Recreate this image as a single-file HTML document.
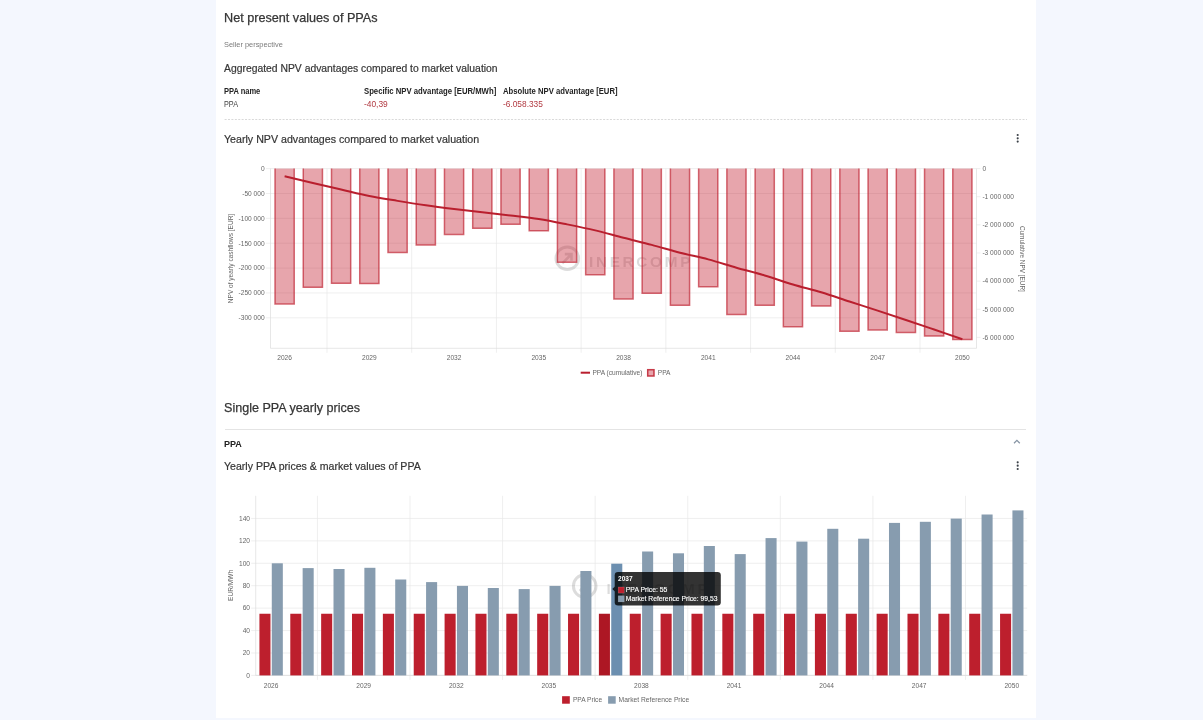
<!DOCTYPE html>
<html lang="en"><head><meta charset="utf-8"><title>Net present values of PPAs</title>
<style>
html,body{margin:0;padding:0}
body{width:1203px;height:720px;overflow:hidden;background:#f4f7fe;position:relative;font-family:"Liberation Sans", Arial, sans-serif}
.card{position:absolute;left:216px;top:0;width:820px;height:717.5px;background:#fff}
.t{position:absolute;white-space:pre;line-height:1;display:block}
</style></head><body>
<div class="card"></div>
<svg style="position:absolute;left:0;top:0" width="1203" height="720" viewBox="0 0 1203 720" font-family='"Liberation Sans", Arial, sans-serif'>
<line x1="266.0" x2="976.5" y1="168.60" y2="168.60" stroke="#e8e8e8" stroke-width="0.7"/>
<line x1="266.0" x2="976.5" y1="193.47" y2="193.47" stroke="#e8e8e8" stroke-width="0.7"/>
<line x1="266.0" x2="976.5" y1="218.34" y2="218.34" stroke="#e8e8e8" stroke-width="0.7"/>
<line x1="266.0" x2="976.5" y1="243.21" y2="243.21" stroke="#e8e8e8" stroke-width="0.7"/>
<line x1="266.0" x2="976.5" y1="268.08" y2="268.08" stroke="#e8e8e8" stroke-width="0.7"/>
<line x1="266.0" x2="976.5" y1="292.95" y2="292.95" stroke="#e8e8e8" stroke-width="0.7"/>
<line x1="266.0" x2="976.5" y1="317.82" y2="317.82" stroke="#e8e8e8" stroke-width="0.7"/>
<line x1="976.5" x2="980.5" y1="196.73" y2="196.73" stroke="#e8e8e8" stroke-width="0.7"/>
<line x1="976.5" x2="980.5" y1="224.86" y2="224.86" stroke="#e8e8e8" stroke-width="0.7"/>
<line x1="976.5" x2="980.5" y1="252.99" y2="252.99" stroke="#e8e8e8" stroke-width="0.7"/>
<line x1="976.5" x2="980.5" y1="281.12" y2="281.12" stroke="#e8e8e8" stroke-width="0.7"/>
<line x1="976.5" x2="980.5" y1="309.25" y2="309.25" stroke="#e8e8e8" stroke-width="0.7"/>
<line x1="976.5" x2="980.5" y1="337.38" y2="337.38" stroke="#e8e8e8" stroke-width="0.7"/>
<line x1="976.5" x2="980.5" y1="168.60" y2="168.60" stroke="#e8e8e8" stroke-width="0.7"/>
<line x1="326.98" x2="326.98" y1="168.6" y2="352.8" stroke="#e8e8e8" stroke-width="0.7"/>
<line x1="411.70" x2="411.70" y1="168.6" y2="352.8" stroke="#e8e8e8" stroke-width="0.7"/>
<line x1="496.42" x2="496.42" y1="168.6" y2="352.8" stroke="#e8e8e8" stroke-width="0.7"/>
<line x1="581.14" x2="581.14" y1="168.6" y2="352.8" stroke="#e8e8e8" stroke-width="0.7"/>
<line x1="665.86" x2="665.86" y1="168.6" y2="352.8" stroke="#e8e8e8" stroke-width="0.7"/>
<line x1="750.58" x2="750.58" y1="168.6" y2="352.8" stroke="#e8e8e8" stroke-width="0.7"/>
<line x1="835.30" x2="835.30" y1="168.6" y2="352.8" stroke="#e8e8e8" stroke-width="0.7"/>
<line x1="920.02" x2="920.02" y1="168.6" y2="352.8" stroke="#e8e8e8" stroke-width="0.7"/>
<line x1="270.5" x2="270.5" y1="168.6" y2="348.3" stroke="#dcdcdc" stroke-width="0.7"/>
<line x1="976.5" x2="976.5" y1="168.6" y2="348.3" stroke="#dcdcdc" stroke-width="0.7"/>
<line x1="270.5" x2="976.5" y1="348.3" y2="348.3" stroke="#dcdcdc" stroke-width="0.7"/>
<g opacity="0.18"><circle cx="567.3" cy="258.3" r="11.3" fill="none" stroke="#444" stroke-width="3"/><path d="M562.3 263.3 L570.8 254.8 M564.8 254.1 L571.5 254.1 L571.5 260.8" stroke="#444" stroke-width="2.6" fill="none"/><text x="589.0" y="266.5" font-size="15.3" font-weight="700" letter-spacing="2.7" fill="#444">INERCOMP</text></g>
<rect x="275.02" y="168.60" width="19.2" height="135.30" fill="rgba(196,30,48,0.40)"/>
<path d="M275.02 168.60 V303.90 H294.22 V168.60" fill="none" stroke="rgba(190,30,46,0.66)" stroke-width="1.5"/>
<rect x="303.26" y="168.60" width="19.2" height="118.70" fill="rgba(196,30,48,0.40)"/>
<path d="M303.26 168.60 V287.30 H322.46 V168.60" fill="none" stroke="rgba(190,30,46,0.66)" stroke-width="1.5"/>
<rect x="331.50" y="168.60" width="19.2" height="114.70" fill="rgba(196,30,48,0.40)"/>
<path d="M331.50 168.60 V283.30 H350.70 V168.60" fill="none" stroke="rgba(190,30,46,0.66)" stroke-width="1.5"/>
<rect x="359.74" y="168.60" width="19.2" height="115.00" fill="rgba(196,30,48,0.40)"/>
<path d="M359.74 168.60 V283.60 H378.94 V168.60" fill="none" stroke="rgba(190,30,46,0.66)" stroke-width="1.5"/>
<rect x="387.98" y="168.60" width="19.2" height="83.90" fill="rgba(196,30,48,0.40)"/>
<path d="M387.98 168.60 V252.50 H407.18 V168.60" fill="none" stroke="rgba(190,30,46,0.66)" stroke-width="1.5"/>
<rect x="416.22" y="168.60" width="19.2" height="76.40" fill="rgba(196,30,48,0.40)"/>
<path d="M416.22 168.60 V245.00 H435.42 V168.60" fill="none" stroke="rgba(190,30,46,0.66)" stroke-width="1.5"/>
<rect x="444.46" y="168.60" width="19.2" height="65.80" fill="rgba(196,30,48,0.40)"/>
<path d="M444.46 168.60 V234.40 H463.66 V168.60" fill="none" stroke="rgba(190,30,46,0.66)" stroke-width="1.5"/>
<rect x="472.70" y="168.60" width="19.2" height="59.70" fill="rgba(196,30,48,0.40)"/>
<path d="M472.70 168.60 V228.30 H491.90 V168.60" fill="none" stroke="rgba(190,30,46,0.66)" stroke-width="1.5"/>
<rect x="500.94" y="168.60" width="19.2" height="55.60" fill="rgba(196,30,48,0.40)"/>
<path d="M500.94 168.60 V224.20 H520.14 V168.60" fill="none" stroke="rgba(190,30,46,0.66)" stroke-width="1.5"/>
<rect x="529.18" y="168.60" width="19.2" height="62.20" fill="rgba(196,30,48,0.40)"/>
<path d="M529.18 168.60 V230.80 H548.38 V168.60" fill="none" stroke="rgba(190,30,46,0.66)" stroke-width="1.5"/>
<rect x="557.42" y="168.60" width="19.2" height="93.60" fill="rgba(196,30,48,0.40)"/>
<path d="M557.42 168.60 V262.20 H576.62 V168.60" fill="none" stroke="rgba(190,30,46,0.66)" stroke-width="1.5"/>
<rect x="585.66" y="168.60" width="19.2" height="106.10" fill="rgba(196,30,48,0.40)"/>
<path d="M585.66 168.60 V274.70 H604.86 V168.60" fill="none" stroke="rgba(190,30,46,0.66)" stroke-width="1.5"/>
<rect x="613.90" y="168.60" width="19.2" height="130.30" fill="rgba(196,30,48,0.40)"/>
<path d="M613.90 168.60 V298.90 H633.10 V168.60" fill="none" stroke="rgba(190,30,46,0.66)" stroke-width="1.5"/>
<rect x="642.14" y="168.60" width="19.2" height="124.70" fill="rgba(196,30,48,0.40)"/>
<path d="M642.14 168.60 V293.30 H661.34 V168.60" fill="none" stroke="rgba(190,30,46,0.66)" stroke-width="1.5"/>
<rect x="670.38" y="168.60" width="19.2" height="136.70" fill="rgba(196,30,48,0.40)"/>
<path d="M670.38 168.60 V305.30 H689.58 V168.60" fill="none" stroke="rgba(190,30,46,0.66)" stroke-width="1.5"/>
<rect x="698.62" y="168.60" width="19.2" height="118.10" fill="rgba(196,30,48,0.40)"/>
<path d="M698.62 168.60 V286.70 H717.82 V168.60" fill="none" stroke="rgba(190,30,46,0.66)" stroke-width="1.5"/>
<rect x="726.86" y="168.60" width="19.2" height="145.90" fill="rgba(196,30,48,0.40)"/>
<path d="M726.86 168.60 V314.50 H746.06 V168.60" fill="none" stroke="rgba(190,30,46,0.66)" stroke-width="1.5"/>
<rect x="755.10" y="168.60" width="19.2" height="136.70" fill="rgba(196,30,48,0.40)"/>
<path d="M755.10 168.60 V305.30 H774.30 V168.60" fill="none" stroke="rgba(190,30,46,0.66)" stroke-width="1.5"/>
<rect x="783.34" y="168.60" width="19.2" height="158.10" fill="rgba(196,30,48,0.40)"/>
<path d="M783.34 168.60 V326.70 H802.54 V168.60" fill="none" stroke="rgba(190,30,46,0.66)" stroke-width="1.5"/>
<rect x="811.58" y="168.60" width="19.2" height="137.40" fill="rgba(196,30,48,0.40)"/>
<path d="M811.58 168.60 V306.00 H830.78 V168.60" fill="none" stroke="rgba(190,30,46,0.66)" stroke-width="1.5"/>
<rect x="839.82" y="168.60" width="19.2" height="162.60" fill="rgba(196,30,48,0.40)"/>
<path d="M839.82 168.60 V331.20 H859.02 V168.60" fill="none" stroke="rgba(190,30,46,0.66)" stroke-width="1.5"/>
<rect x="868.06" y="168.60" width="19.2" height="161.30" fill="rgba(196,30,48,0.40)"/>
<path d="M868.06 168.60 V329.90 H887.26 V168.60" fill="none" stroke="rgba(190,30,46,0.66)" stroke-width="1.5"/>
<rect x="896.30" y="168.60" width="19.2" height="163.90" fill="rgba(196,30,48,0.40)"/>
<path d="M896.30 168.60 V332.50 H915.50 V168.60" fill="none" stroke="rgba(190,30,46,0.66)" stroke-width="1.5"/>
<rect x="924.54" y="168.60" width="19.2" height="167.40" fill="rgba(196,30,48,0.40)"/>
<path d="M924.54 168.60 V336.00 H943.74 V168.60" fill="none" stroke="rgba(190,30,46,0.66)" stroke-width="1.5"/>
<rect x="952.78" y="168.60" width="19.2" height="170.90" fill="rgba(196,30,48,0.40)"/>
<path d="M952.78 168.60 V339.50 H971.98 V168.60" fill="none" stroke="rgba(190,30,46,0.66)" stroke-width="1.5"/>
<path d="M284.62 176.29 C289.33 177.42 303.45 180.83 312.86 183.04 C322.27 185.25 331.69 187.38 341.10 189.56 C350.51 191.74 359.93 194.21 369.34 196.10 C378.75 197.98 388.17 199.35 397.58 200.87 C406.99 202.39 416.41 203.86 425.82 205.21 C435.23 206.56 444.65 207.76 454.06 208.95 C463.47 210.14 472.89 211.25 482.30 212.35 C491.71 213.44 501.13 214.39 510.54 215.51 C519.95 216.62 529.37 217.57 538.78 219.04 C548.19 220.52 557.61 222.47 567.02 224.36 C576.43 226.26 585.85 228.16 595.26 230.40 C604.67 232.64 614.09 235.39 623.50 237.80 C632.91 240.22 642.33 242.42 651.74 244.89 C661.15 247.37 670.57 250.25 679.98 252.66 C689.39 255.08 698.81 256.88 708.22 259.38 C717.63 261.88 727.05 264.99 736.46 267.67 C745.87 270.35 755.29 272.65 764.70 275.44 C774.11 278.24 783.53 281.63 792.94 284.43 C802.35 287.23 811.77 289.40 821.18 292.24 C830.59 295.09 840.01 298.42 849.42 301.49 C858.83 304.56 868.25 307.58 877.66 310.66 C887.07 313.74 896.49 316.84 905.90 319.97 C915.31 323.11 924.73 326.29 934.14 329.49 C943.55 332.70 957.67 337.59 962.38 339.21" fill="none" stroke="#b91f2e" stroke-width="2" stroke-linejoin="round"/>
<text x="264.6" y="170.95" font-size="6.6" fill="#666" text-anchor="end">0</text>
<text x="264.6" y="195.82" font-size="6.6" fill="#666" text-anchor="end">-50 000</text>
<text x="264.6" y="220.69" font-size="6.6" fill="#666" text-anchor="end">-100 000</text>
<text x="264.6" y="245.56" font-size="6.6" fill="#666" text-anchor="end">-150 000</text>
<text x="264.6" y="270.43" font-size="6.6" fill="#666" text-anchor="end">-200 000</text>
<text x="264.6" y="295.30" font-size="6.6" fill="#666" text-anchor="end">-250 000</text>
<text x="264.6" y="320.17" font-size="6.6" fill="#666" text-anchor="end">-300 000</text>
<text x="982.4" y="170.95" font-size="6.6" fill="#666">0</text>
<text x="982.4" y="199.08" font-size="6.6" fill="#666">-1 000 000</text>
<text x="982.4" y="227.21" font-size="6.6" fill="#666">-2 000 000</text>
<text x="982.4" y="255.34" font-size="6.6" fill="#666">-3 000 000</text>
<text x="982.4" y="283.47" font-size="6.6" fill="#666">-4 000 000</text>
<text x="982.4" y="311.60" font-size="6.6" fill="#666">-5 000 000</text>
<text x="982.4" y="339.73" font-size="6.6" fill="#666">-6 000 000</text>
<text x="284.62" y="360.4" font-size="6.6" fill="#666" text-anchor="middle">2026</text>
<text x="369.34" y="360.4" font-size="6.6" fill="#666" text-anchor="middle">2029</text>
<text x="454.06" y="360.4" font-size="6.6" fill="#666" text-anchor="middle">2032</text>
<text x="538.78" y="360.4" font-size="6.6" fill="#666" text-anchor="middle">2035</text>
<text x="623.50" y="360.4" font-size="6.6" fill="#666" text-anchor="middle">2038</text>
<text x="708.22" y="360.4" font-size="6.6" fill="#666" text-anchor="middle">2041</text>
<text x="792.94" y="360.4" font-size="6.6" fill="#666" text-anchor="middle">2044</text>
<text x="877.66" y="360.4" font-size="6.6" fill="#666" text-anchor="middle">2047</text>
<text x="962.38" y="360.4" font-size="6.6" fill="#666" text-anchor="middle">2050</text>
<text transform="translate(232.8 258.5) rotate(-90)" font-size="6.6" fill="#666" text-anchor="middle" textLength="89.3" lengthAdjust="spacingAndGlyphs">NPV of yearly cashflows [EUR]</text>
<text transform="translate(1020.0 258.9) rotate(90)" font-size="6.6" fill="#666" text-anchor="middle" textLength="66" lengthAdjust="spacingAndGlyphs">Cumulative NPV [EUR]</text>
<rect x="580.7" y="371.7" width="9.3" height="2" fill="#b91f2e"/>
<text x="592.4" y="374.9" font-size="6.6" fill="#666">PPA (cumulative)</text>
<rect x="647.7" y="369.7" width="6.3" height="6.3" fill="rgba(196,30,48,0.40)" stroke="rgba(190,30,46,0.85)" stroke-width="1.5"/>
<text x="657.8" y="374.9" font-size="6.6" fill="#666">PPA</text>
<line x1="251.2" x2="1027.2" y1="675.40" y2="675.40" stroke="#e8e8e8" stroke-width="0.7"/>
<line x1="251.2" x2="1027.2" y1="652.98" y2="652.98" stroke="#e8e8e8" stroke-width="0.7"/>
<line x1="251.2" x2="1027.2" y1="630.56" y2="630.56" stroke="#e8e8e8" stroke-width="0.7"/>
<line x1="251.2" x2="1027.2" y1="608.14" y2="608.14" stroke="#e8e8e8" stroke-width="0.7"/>
<line x1="251.2" x2="1027.2" y1="585.72" y2="585.72" stroke="#e8e8e8" stroke-width="0.7"/>
<line x1="251.2" x2="1027.2" y1="563.30" y2="563.30" stroke="#e8e8e8" stroke-width="0.7"/>
<line x1="251.2" x2="1027.2" y1="540.88" y2="540.88" stroke="#e8e8e8" stroke-width="0.7"/>
<line x1="251.2" x2="1027.2" y1="518.46" y2="518.46" stroke="#e8e8e8" stroke-width="0.7"/>
<line x1="317.42" x2="317.42" y1="495.8" y2="679.9" stroke="#e8e8e8" stroke-width="0.7"/>
<line x1="410.00" x2="410.00" y1="495.8" y2="679.9" stroke="#e8e8e8" stroke-width="0.7"/>
<line x1="502.58" x2="502.58" y1="495.8" y2="679.9" stroke="#e8e8e8" stroke-width="0.7"/>
<line x1="595.16" x2="595.16" y1="495.8" y2="679.9" stroke="#e8e8e8" stroke-width="0.7"/>
<line x1="687.74" x2="687.74" y1="495.8" y2="679.9" stroke="#e8e8e8" stroke-width="0.7"/>
<line x1="780.32" x2="780.32" y1="495.8" y2="679.9" stroke="#e8e8e8" stroke-width="0.7"/>
<line x1="872.90" x2="872.90" y1="495.8" y2="679.9" stroke="#e8e8e8" stroke-width="0.7"/>
<line x1="965.48" x2="965.48" y1="495.8" y2="679.9" stroke="#e8e8e8" stroke-width="0.7"/>
<line x1="255.7" x2="255.7" y1="495.8" y2="675.4" stroke="#dcdcdc" stroke-width="0.7"/>
<line x1="255.7" x2="1027.2" y1="675.4" y2="675.4" stroke="#dcdcdc" stroke-width="0.7"/>
<g opacity="0.18"><circle cx="584.7" cy="586.0" r="11.3" fill="none" stroke="#444" stroke-width="3"/><path d="M579.7 591.0 L588.2 582.5 M582.2 581.8 L588.9 581.8 L588.9 588.5" stroke="#444" stroke-width="2.6" fill="none"/><text x="606.4" y="594.2" font-size="15.3" font-weight="700" letter-spacing="2.7" fill="#444">INERCOMP</text></g>
<rect x="259.43" y="613.75" width="11.05" height="61.66" fill="#bd1f2d"/>
<rect x="271.78" y="563.30" width="11.05" height="112.10" fill="#879caf"/>
<rect x="290.29" y="613.75" width="11.05" height="61.66" fill="#bd1f2d"/>
<rect x="302.64" y="568.10" width="11.05" height="107.30" fill="#879caf"/>
<rect x="321.15" y="613.75" width="11.05" height="61.66" fill="#bd1f2d"/>
<rect x="333.50" y="569.00" width="11.05" height="106.40" fill="#879caf"/>
<rect x="352.01" y="613.75" width="11.05" height="61.66" fill="#bd1f2d"/>
<rect x="364.36" y="567.80" width="11.05" height="107.60" fill="#879caf"/>
<rect x="382.87" y="613.75" width="11.05" height="61.66" fill="#bd1f2d"/>
<rect x="395.22" y="579.50" width="11.05" height="95.90" fill="#879caf"/>
<rect x="413.73" y="613.75" width="11.05" height="61.66" fill="#bd1f2d"/>
<rect x="426.08" y="582.10" width="11.05" height="93.30" fill="#879caf"/>
<rect x="444.59" y="613.75" width="11.05" height="61.66" fill="#bd1f2d"/>
<rect x="456.94" y="585.90" width="11.05" height="89.50" fill="#879caf"/>
<rect x="475.45" y="613.75" width="11.05" height="61.66" fill="#bd1f2d"/>
<rect x="487.80" y="588.00" width="11.05" height="87.40" fill="#879caf"/>
<rect x="506.31" y="613.75" width="11.05" height="61.66" fill="#bd1f2d"/>
<rect x="518.66" y="589.10" width="11.05" height="86.30" fill="#879caf"/>
<rect x="537.17" y="613.75" width="11.05" height="61.66" fill="#bd1f2d"/>
<rect x="549.52" y="585.90" width="11.05" height="89.50" fill="#879caf"/>
<rect x="568.03" y="613.75" width="11.05" height="61.66" fill="#bd1f2d"/>
<rect x="580.38" y="571.00" width="11.05" height="104.40" fill="#879caf"/>
<rect x="598.89" y="613.75" width="11.05" height="61.66" fill="#ad1724"/>
<rect x="611.24" y="563.70" width="11.05" height="111.70" fill="#6c8fb0"/>
<rect x="629.75" y="613.75" width="11.05" height="61.66" fill="#bd1f2d"/>
<rect x="642.10" y="551.50" width="11.05" height="123.90" fill="#879caf"/>
<rect x="660.61" y="613.75" width="11.05" height="61.66" fill="#bd1f2d"/>
<rect x="672.96" y="553.30" width="11.05" height="122.10" fill="#879caf"/>
<rect x="691.47" y="613.75" width="11.05" height="61.66" fill="#bd1f2d"/>
<rect x="703.82" y="546.00" width="11.05" height="129.40" fill="#879caf"/>
<rect x="722.33" y="613.75" width="11.05" height="61.66" fill="#bd1f2d"/>
<rect x="734.68" y="554.10" width="11.05" height="121.30" fill="#879caf"/>
<rect x="753.19" y="613.75" width="11.05" height="61.66" fill="#bd1f2d"/>
<rect x="765.54" y="538.10" width="11.05" height="137.30" fill="#879caf"/>
<rect x="784.05" y="613.75" width="11.05" height="61.66" fill="#bd1f2d"/>
<rect x="796.40" y="541.60" width="11.05" height="133.80" fill="#879caf"/>
<rect x="814.91" y="613.75" width="11.05" height="61.66" fill="#bd1f2d"/>
<rect x="827.26" y="528.80" width="11.05" height="146.60" fill="#879caf"/>
<rect x="845.77" y="613.75" width="11.05" height="61.66" fill="#bd1f2d"/>
<rect x="858.12" y="538.70" width="11.05" height="136.70" fill="#879caf"/>
<rect x="876.63" y="613.75" width="11.05" height="61.66" fill="#bd1f2d"/>
<rect x="888.98" y="522.90" width="11.05" height="152.50" fill="#879caf"/>
<rect x="907.49" y="613.75" width="11.05" height="61.66" fill="#bd1f2d"/>
<rect x="919.84" y="521.80" width="11.05" height="153.60" fill="#879caf"/>
<rect x="938.35" y="613.75" width="11.05" height="61.66" fill="#bd1f2d"/>
<rect x="950.70" y="518.60" width="11.05" height="156.80" fill="#879caf"/>
<rect x="969.21" y="613.75" width="11.05" height="61.66" fill="#bd1f2d"/>
<rect x="981.56" y="514.50" width="11.05" height="160.90" fill="#879caf"/>
<rect x="1000.07" y="613.75" width="11.05" height="61.66" fill="#bd1f2d"/>
<rect x="1012.42" y="510.40" width="11.05" height="165.00" fill="#879caf"/>
<text x="250.0" y="677.75" font-size="6.6" fill="#666" text-anchor="end">0</text>
<text x="250.0" y="655.33" font-size="6.6" fill="#666" text-anchor="end">20</text>
<text x="250.0" y="632.91" font-size="6.6" fill="#666" text-anchor="end">40</text>
<text x="250.0" y="610.49" font-size="6.6" fill="#666" text-anchor="end">60</text>
<text x="250.0" y="588.07" font-size="6.6" fill="#666" text-anchor="end">80</text>
<text x="250.0" y="565.65" font-size="6.6" fill="#666" text-anchor="end">100</text>
<text x="250.0" y="543.23" font-size="6.6" fill="#666" text-anchor="end">120</text>
<text x="250.0" y="520.81" font-size="6.6" fill="#666" text-anchor="end">140</text>
<text x="271.13" y="687.7" font-size="6.6" fill="#666" text-anchor="middle">2026</text>
<text x="363.71" y="687.7" font-size="6.6" fill="#666" text-anchor="middle">2029</text>
<text x="456.29" y="687.7" font-size="6.6" fill="#666" text-anchor="middle">2032</text>
<text x="548.87" y="687.7" font-size="6.6" fill="#666" text-anchor="middle">2035</text>
<text x="641.45" y="687.7" font-size="6.6" fill="#666" text-anchor="middle">2038</text>
<text x="734.03" y="687.7" font-size="6.6" fill="#666" text-anchor="middle">2041</text>
<text x="826.61" y="687.7" font-size="6.6" fill="#666" text-anchor="middle">2044</text>
<text x="919.19" y="687.7" font-size="6.6" fill="#666" text-anchor="middle">2047</text>
<text x="1011.77" y="687.7" font-size="6.6" fill="#666" text-anchor="middle">2050</text>
<text transform="translate(232.6 585.4) rotate(-90)" font-size="6.6" fill="#666" text-anchor="middle">EUR/MWh</text>
<rect x="562.1" y="696.2" width="7.7" height="7.5" fill="#bd1f2d"/>
<text x="572.9" y="702.3" font-size="6.6" fill="#666">PPA Price</text>
<rect x="608.1" y="696.2" width="7.6" height="7.5" fill="#879caf"/>
<text x="618.6" y="702.3" font-size="6.6" fill="#666" textLength="70.6" lengthAdjust="spacingAndGlyphs">Market Reference Price</text>
<path d="M612.3 589.1 L614.9 586.6 L614.9 591.6 Z" fill="rgba(0,0,0,0.8)"/>
<rect x="614.7" y="571.9" width="106.1" height="33.7" rx="3.3" fill="rgba(0,0,0,0.8)"/>
<text x="618" y="580.6" font-size="6.6" font-weight="700" fill="#fff" textLength="14.6" lengthAdjust="spacingAndGlyphs">2037</text>
<rect x="618.2" y="587.0" width="6" height="6.1" fill="#bd1f2d" stroke="#fff" stroke-opacity="0.3" stroke-width="0.5"/>
<text x="625.8" y="592.2" font-size="6.8" fill="#fff" stroke="#fff" stroke-width="0.15" textLength="41.6" lengthAdjust="spacingAndGlyphs">PPA Price: 55</text>
<rect x="618.2" y="595.8" width="6" height="6.1" fill="#879caf" stroke="#fff" stroke-opacity="0.3" stroke-width="0.5"/>
<text x="625.8" y="601.0" font-size="6.8" fill="#fff" stroke="#fff" stroke-width="0.15" textLength="91.7" lengthAdjust="spacingAndGlyphs">Market Reference Price: 99,53</text>
<line x1="224.6" x2="1027" y1="119.5" y2="119.5" stroke="#d9d9d9" stroke-width="1" stroke-dasharray="2 1.41"/>
<circle cx="1017.7" cy="135.0" r="1.08" fill="#3b4148"/>
<circle cx="1017.7" cy="138.3" r="1.08" fill="#3b4148"/>
<circle cx="1017.7" cy="141.6" r="1.08" fill="#3b4148"/>
<circle cx="1017.7" cy="462.3" r="1.08" fill="#3b4148"/>
<circle cx="1017.7" cy="465.7" r="1.08" fill="#3b4148"/>
<circle cx="1017.7" cy="469.0" r="1.08" fill="#3b4148"/>
<path d="M1014 443.2 L1016.9 440.3 L1019.8 443.2" fill="none" stroke="#8593a3" stroke-width="1.25"/>
</svg>
<span class="t" style="left:224.00px;top:11.35px;font-size:13.1px;font-weight:400;color:#353535;transform:scaleX(0.9651);transform-origin:left top;-webkit-text-stroke:0.25px #353535;">Net present values of PPAs</span>
<span class="t" style="left:224.20px;top:40.85px;font-size:8.1px;font-weight:400;color:#7a7a7a;transform:scaleX(0.9138);transform-origin:left top;">Seller perspective</span>
<span class="t" style="left:224.40px;top:63.15px;font-size:10.5px;font-weight:400;color:#353535;transform:scaleX(0.9868);transform-origin:left top;-webkit-text-stroke:0.2px #353535;">Aggregated NPV advantages compared to market valuation</span>
<span class="t" style="left:224.20px;top:86.90px;font-size:9.0px;font-weight:700;color:#222;transform:scaleX(0.8342);transform-origin:left top;">PPA name</span>
<span class="t" style="left:364.30px;top:86.90px;font-size:9.0px;font-weight:700;color:#222;transform:scaleX(0.8583);transform-origin:left top;">Specific NPV advantage [EUR/MWh]</span>
<span class="t" style="left:503.40px;top:86.90px;font-size:9.0px;font-weight:700;color:#222;transform:scaleX(0.8543);transform-origin:left top;">Absolute NPV advantage [EUR]</span>
<span class="t" style="left:224.00px;top:100.20px;font-size:8.4px;font-weight:400;color:#444;transform:scaleX(0.8674);transform-origin:left top;">PPA</span>
<span class="t" style="left:364.00px;top:100.20px;font-size:8.4px;font-weight:400;color:#b23a42;">-40,39</span>
<span class="t" style="left:503.20px;top:100.20px;font-size:8.4px;font-weight:400;color:#b23a42;transform:scaleX(0.9959);transform-origin:left top;">-6.058.335</span>
<span class="t" style="left:224.30px;top:134.15px;font-size:10.5px;font-weight:400;color:#353535;transform:scaleX(1.0136);transform-origin:left top;-webkit-text-stroke:0.2px #353535;">Yearly NPV advantages compared to market valuation</span>
<span class="t" style="left:223.80px;top:401.40px;font-size:13.0px;font-weight:400;color:#353535;transform:scaleX(0.9668);transform-origin:left top;-webkit-text-stroke:0.25px #353535;">Single PPA yearly prices</span>
<div style="position:absolute;left:224.6px;top:429px;width:801.8px;height:1px;background:#e4e4e4"></div>
<span class="t" style="left:224.00px;top:439.00px;font-size:9.8px;font-weight:700;color:#222;transform:scaleX(0.9216);transform-origin:left top;">PPA</span>
<span class="t" style="left:224.30px;top:461.15px;font-size:10.5px;font-weight:400;color:#353535;transform:scaleX(1.0071);transform-origin:left top;-webkit-text-stroke:0.2px #353535;">Yearly PPA prices &amp; market values of PPA</span>
</body></html>
